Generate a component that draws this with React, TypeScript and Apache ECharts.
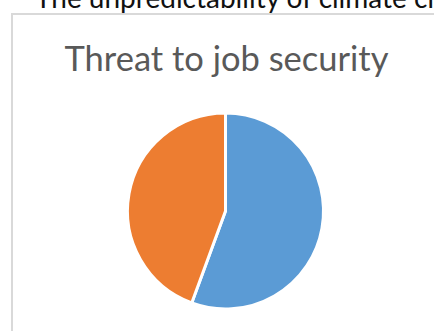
import React, { useEffect, useRef } from "react";
import * as echarts from "echarts";

const categories = ["Yes", "No"];
const values = [55.6, 44.4];
const colors = ["#5B9BD5", "#ED7D31"];
const chartTitle = "Threat to job security";
const pageHeading = "The unpredictability of climate change";

export default function App() {
  const ref = useRef<HTMLDivElement>(null);
  useEffect(() => {
    if (!ref.current) return;
    const chart = echarts.init(ref.current, undefined, { renderer: "svg" });
    chart.setOption({
      animation: false,
      title: {
        text: chartTitle,
        left: 221.5,
        top: 35,
        textAlign: "center",
        textStyle: {
          fontFamily: "Lato",
          fontSize: 34.5,
          fontWeight: "normal",
          color: "#595959",
        },
      },
      graphic: [
        {
          type: "rect",
          shape: { x: 12, y: 14, width: 460, height: 340 },
          style: { fill: "none", stroke: "#d9d9d9", lineWidth: 2 },
          z: -1,
        },
        {
          type: "text",
          x: 35,
          y: 11,
          style: {
            text: pageHeading,
            fontFamily: "Lato",
            fontSize: 28,
            fill: "#111",
            verticalAlign: "bottom",
          },
        },
      ],
      series: [
        {
          type: "pie",
          center: [225.5, 211],
          radius: 98,
          startAngle: 90,
          clockwise: true,
          label: { show: false },
          labelLine: { show: false },
          itemStyle: { borderColor: "#fff", borderWidth: 3 },
          data: categories.map((c, i) => ({
            name: c,
            value: values[i],
            itemStyle: { color: colors[i] },
          })),
        },
      ],
    });
    return () => chart.dispose();
  }, []);
  return (
    <div
      ref={ref}
      style={{ position: "fixed", left: 0, top: 0, width: 434, height: 331, background: "#fff" }}
    />
  );
}
